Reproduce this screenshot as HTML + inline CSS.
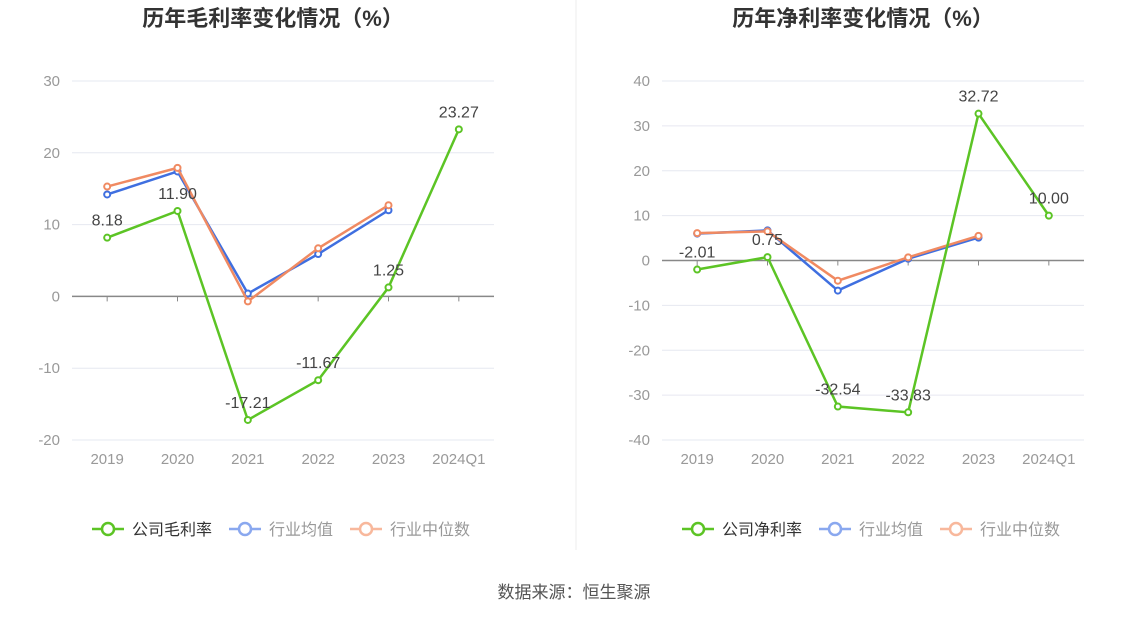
<!DOCTYPE html>
<html><head><meta charset="utf-8"><style>
body{margin:0;background:#fff;font-family:"Liberation Sans","Noto Sans CJK SC",sans-serif;}
svg{display:block}
</style></head><body>
<svg id="s" width="1148" height="619" xmlns="http://www.w3.org/2000/svg">
<line x1="576" y1="0" x2="576" y2="550" stroke="#eee"/>
<text x="574" y="598" text-anchor="middle" font-size="17" fill="#555">数据来源：恒生聚源</text>
</svg>
<script>
const categories=["2019","2020","2021","2022","2023","2024Q1"];
const grossCompany=[8.18,11.90,-17.21,-11.67,1.25,23.27];
const grossAvg=[14.2,17.4,0.4,5.9,12.0];
const grossMedian=[15.3,17.9,-0.7,6.7,12.7];
const netCompany=[-2.01,0.75,-32.54,-33.83,32.72,10.00];
const netAvg=[6.0,6.7,-6.7,0.4,5.1];
const netMedian=[6.1,6.5,-4.5,0.7,5.5];
const grossTicks=[30,20,10,0,-10,-20];
const netTicks=[40,30,20,10,0,-10,-20,-30,-40];
const svg=document.getElementById('s');
const NS='http://www.w3.org/2000/svg';
function mk(t,a,txt){const e=document.createElementNS(NS,t);for(const k in a)e.setAttribute(k,a[k]);if(txt!==undefined)e.textContent=txt;svg.appendChild(e);return e;}
function chart(o){
 const x0=o.left,x1=o.left+422,step=422/6;
 const xs=i=>x0+step*(i+0.5);
 const ys=v=>o.yTop+(o.max-v)/(o.max-o.min)*(o.yBot-o.yTop);
 let t=mk('text',{x:o.left+201,y:26,'text-anchor':'middle','font-size':22,'font-weight':'bold',fill:'#333'},o.title);
 
 
 o.ticks.forEach(v=>{
  let l=mk('line',{x1:x0,x2:x1,y1:ys(v),y2:ys(v),stroke:v===0?'#888':'#e6e8f0','stroke-width':v===0?1.5:1});
  
  
  let tx=mk('text',{x:x0-12,y:ys(v)+5,'text-anchor':'end','font-size':15,fill:'#999'},String(v));
  
  
 });
 categories.forEach((c,i)=>{
  let tk=mk('line',{x1:xs(i),x2:xs(i),y1:ys(0),y2:ys(0)+5,stroke:'#888'});
  
  
  let tx=mk('text',{x:xs(i),y:o.yBot+24,'text-anchor':'middle','font-size':15,fill:'#999'},c);
  
  
 });
 const series=[[o.avg,'#3f6fe0','avg'],[o.median,'#f08a62','median'],[o.company,'#5cc425','company']];
 series.forEach(([d,c,n])=>{
  let p=mk('polyline',{points:d.map((v,i)=>xs(i)+','+ys(v)).join(' '),fill:'none',stroke:c,'stroke-width':2.5});
  
  
  d.forEach((v,i)=>{
   let ci=mk('circle',{cx:xs(i),cy:ys(v),r:3,fill:'#fff',stroke:c,'stroke-width':2});
   
   
  });
 });
 o.company.forEach((v,i)=>{
  let tx=mk('text',{x:xs(i),y:ys(v)-12,'text-anchor':'middle','font-size':16,fill:'#444'},v.toFixed(2));
  
  
 });
 const leg=[[o.legend,'#5cc425','#333'],['行业均值','#8aa8ef','#999'],['行业中位数','#f8b89c','#999']];
 let lx=o.left+20;
 leg.forEach(([txt,c,tc])=>{
  let g=mk('line',{x1:lx,x2:lx+32,y1:529,y2:529,stroke:c,'stroke-width':2.5});
  
  
  let ci=mk('circle',{cx:lx+16,cy:529,r:6,fill:'#fff',stroke:c,'stroke-width':2.5});
  
  
  let tx=mk('text',{x:lx+40,y:535,'font-size':16,fill:tc},txt);
  
  
  lx+=40+txt.length*16+17;
 });
}
chart({key:'gross',left:72,title:'历年毛利率变化情况（%）',legend:'公司毛利率',yTop:81,yBot:440,max:30,min:-20,ticks:grossTicks,company:grossCompany,avg:grossAvg,median:grossMedian});
chart({key:'net',left:662,title:'历年净利率变化情况（%）',legend:'公司净利率',yTop:81,yBot:440,max:40,min:-40,ticks:netTicks,company:netCompany,avg:netAvg,median:netMedian});
</script>
</body></html>
